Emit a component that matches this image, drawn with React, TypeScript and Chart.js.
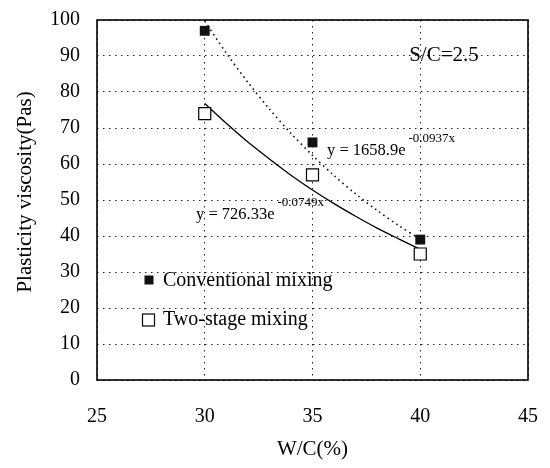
import React, { useEffect, useRef } from 'react';
import { Chart, registerables } from 'chart.js';

Chart.register(...registerables);

// ---- data ----
const wcPercent = [30, 35, 40];
const conventionalMixing = [97, 66, 39];
const twoStageMixing = [74, 57, 35];

// trend curves (exponential fits as drawn in the figure)
const trendWc = [30, 31, 32, 33, 34, 35, 36, 37, 38, 39, 40];
const conventionalTrend = [99.7, 90.8, 82.7, 75.3, 68.5, 62.4, 56.8, 51.7, 47.1, 42.9, 39.1];
const twoStageTrend = [76.8, 71.3, 66.1, 61.4, 56.9, 52.8, 49.0, 45.5, 42.2, 39.2, 36.3];

const xTickValues = [25, 30, 35, 40, 45];
const yTickValues = [0, 10, 20, 30, 40, 50, 60, 70, 80, 90, 100];

const legendLabels = ['Conventional mixing', 'Two-stage mixing'];
const xTitle = 'W/C(%)';
const yTitle = 'Plasticity viscosity(Pas)';
const noteText = 'S/C=2.5';
const eqConventional = ['y = 1658.9e', '-0.0937x'];
const eqTwoStage = ['y = 726.33e', '-0.0749x'];

const SERIF = '"Liberation Serif", "Times New Roman", Times, serif';

const overlayPlugin = {
  id: 'overlay',
  afterDraw(chart: any) {
    const { ctx, chartArea } = chart;
    ctx.save();
    // frame
    ctx.strokeStyle = '#000';
    ctx.lineWidth = 1.6;
    ctx.setLineDash([]);
    ctx.strokeRect(chartArea.left, chartArea.top, chartArea.right - chartArea.left, chartArea.bottom - chartArea.top);

    ctx.fillStyle = '#000';
    ctx.textBaseline = 'middle';

    // axis titles
    ctx.font = `21px ${SERIF}`;
    ctx.textAlign = 'center';
    ctx.fillText(xTitle, (chartArea.left + chartArea.right) / 2, 449);
    ctx.save();
    ctx.translate(25, 192);
    ctx.rotate(-Math.PI / 2);
    ctx.fillText(yTitle, 0, 0);
    ctx.restore();

    // note
    ctx.font = `21px ${SERIF}`;
    ctx.textAlign = 'center';
    ctx.fillText(noteText, 444, 55);

    // equations
    const drawEq = (eq: string[], x: number, y: number) => {
      ctx.textAlign = 'left';
      ctx.font = `16.5px ${SERIF}`;
      ctx.fillText(eq[0], x, y);
      const w = ctx.measureText(eq[0]).width;
      ctx.font = `13px ${SERIF}`;
      ctx.fillText(eq[1], x + w + 3, y - 12);
    };
    drawEq(eqConventional, 327, 151);
    drawEq(eqTwoStage, 196, 215);

    // legend
    ctx.font = `20px ${SERIF}`;
    ctx.textAlign = 'left';
    ctx.fillStyle = '#111';
    ctx.fillRect(144.5, 275.5, 9, 9);
    ctx.fillStyle = '#000';
    ctx.fillText(legendLabels[0], 163, 281);
    ctx.fillStyle = '#fff';
    ctx.fillRect(142.5, 314, 12, 12);
    ctx.strokeStyle = '#000';
    ctx.lineWidth = 1.2;
    ctx.strokeRect(142.5, 314, 12, 12);
    ctx.fillStyle = '#000';
    ctx.fillText(legendLabels[1], 163, 320);
    ctx.restore();
  },
};

const zeroPad = (scale: any) => {
  scale.paddingTop = 0;
  scale.paddingBottom = 0;
  scale.paddingLeft = 0;
  scale.paddingRight = 0;
};

export default function App() {
  const canvasRef = useRef<HTMLCanvasElement | null>(null);

  useEffect(() => {
    document.body.style.margin = '0';
    const canvas = canvasRef.current;
    if (!canvas) return;

    const chart = new Chart(canvas, {
      type: 'scatter',
      data: {
        datasets: [
          {
            label: legendLabels[0],
            data: wcPercent.map((x, i) => ({ x, y: conventionalMixing[i] })),
            pointStyle: 'rect',
            pointRadius: 7,
            backgroundColor: '#111',
            borderColor: '#111',
            borderWidth: 0,
            showLine: false,
          },
          {
            label: legendLabels[1],
            data: wcPercent.map((x, i) => ({ x, y: twoStageMixing[i] })),
            pointStyle: 'rect',
            pointRadius: 8.5,
            backgroundColor: '#fff',
            borderColor: '#000',
            borderWidth: 1.2,
            showLine: false,
          },
          {
            label: 'trend conventional',
            data: trendWc.map((x, i) => ({ x, y: conventionalTrend[i] })),
            showLine: true,
            pointRadius: 0,
            borderColor: '#111',
            borderWidth: 1.6,
            borderDash: [1.6, 3.6],
            tension: 0.3,
          },
          {
            label: 'trend two-stage',
            data: trendWc.map((x, i) => ({ x, y: twoStageTrend[i] })),
            showLine: true,
            pointRadius: 0,
            borderColor: '#000',
            borderWidth: 1.3,
            tension: 0.3,
          },
        ],
      },
      options: {
        animation: false,
        responsive: false,
        maintainAspectRatio: false,
        events: [],
        layout: { padding: { top: 20, right: 22, left: 0, bottom: 0 } },
        plugins: {
          legend: { display: false },
          tooltip: { enabled: false },
          title: { display: false },
        },
        scales: {
          x: {
            type: 'linear',
            min: xTickValues[0],
            max: xTickValues[xTickValues.length - 1],
            afterBuildTicks: (scale: any) => {
              scale.ticks = xTickValues.map((v) => ({ value: v }));
            },
            afterFit: (scale: any) => {
              scale.height = 88;
              zeroPad(scale);
            },
            ticks: {
              color: '#000',
              font: { family: SERIF, size: 20 },
              padding: 25,
              maxRotation: 0,
            },
            grid: {
              color: '#222',
              lineWidth: 1,
              drawTicks: false,
            },
            border: { display: false, dash: [1.5, 4.5] },
          },
          y: {
            type: 'linear',
            min: yTickValues[0],
            max: yTickValues[yTickValues.length - 1],
            afterBuildTicks: (scale: any) => {
              scale.ticks = yTickValues.map((v) => ({ value: v }));
            },
            afterFit: (scale: any) => {
              scale.width = 97;
              zeroPad(scale);
            },
            ticks: {
              color: '#000',
              font: { family: SERIF, size: 20 },
              padding: 17,
            },
            grid: {
              color: '#222',
              lineWidth: 1,
              drawTicks: false,
            },
            border: { display: false, dash: [1.5, 4.5] },
          },
        },
      },
      plugins: [overlayPlugin],
    } as any);

    return () => chart.destroy();
  }, []);

  return (
    <div style={{ width: 550, height: 468, background: '#fff' }}>
      <canvas ref={canvasRef} width={550} height={468} style={{ display: 'block' }} />
    </div>
  );
}
